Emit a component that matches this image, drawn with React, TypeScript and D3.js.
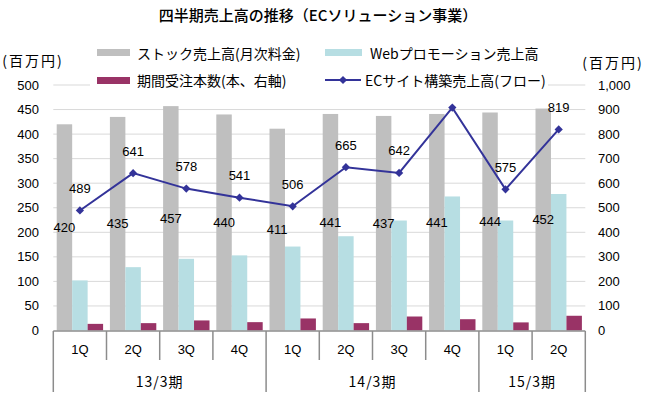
import React from 'react';
import * as d3 from 'd3';

const quarters = ['1Q', '2Q', '3Q', '4Q', '1Q', '2Q', '3Q', '4Q', '1Q', '2Q'];
const periodLabels = ['13/3期', '14/3期', '15/3期'];
const periodSpans = [4, 4, 2];

const stockSales = [420, 435, 457, 440, 411, 441, 437, 441, 444, 452];
const webSales = [102, 129, 146, 153, 171, 192, 224, 273, 224, 278];
const orderCounts = [27, 30, 41, 34, 49, 30, 57, 46, 33, 60];
const ecSales = [489, 641, 578, 541, 506, 665, 642, 908, 575, 819];
// the 4Q 14/3 point has no label in the source
const ecLabelHidden = [7];

const leftTicks = [0, 50, 100, 150, 200, 250, 300, 350, 400, 450, 500];
const rightTicks = [0, 100, 200, 300, 400, 500, 600, 700, 800, 900, 1000];

const W = 651;
const H = 398;
const jpFont = '"Noto Sans CJK JP", sans-serif';
const numFont = '"Liberation Sans", Arial, sans-serif';

const GRAY = '#bfbfbf';
const CYAN = '#b7dee3';
const MAROON = '#993366';
const NAVY = '#333399';

export default function App() {
  const idx = quarters.map((_, i) => i);
  const x = d3.scaleBand<number>().domain(idx).range([53.3, 585.3]).padding(0);
  const inner = d3
    .scaleBand<string>()
    .domain(['stock', 'web', 'orders'])
    .range([0, x.bandwidth()])
    .paddingInner(0)
    .paddingOuter(0.22);
  const yL = d3.scaleLinear().domain([0, 500]).range([330.5, 85]);
  const yR = d3.scaleLinear().domain([0, 1000]).range([330.5, 85]);

  const cx = (i: number) => (x(i) ?? 0) + x.bandwidth() / 2;
  const line = d3
    .line<number>()
    .x((_, i) => cx(i))
    .y((d) => yR(d));
  const diamond = d3.symbol(d3.symbolSquare, 34)();

  // group boundaries on the category axis
  const groupStarts: number[] = [];
  let acc = 0;
  periodSpans.forEach((s) => {
    groupStarts.push(acc);
    acc += s;
  });

  const x0 = x.range()[0];
  const x1 = x.range()[1];

  return (
    <svg
      width={W}
      height={H}
      style={{ position: 'absolute', left: 0, top: 0, background: '#fff' }}
    >
      <text x={318} y={14} textAnchor="middle" dominantBaseline="central" fontFamily={jpFont} fontSize={15} fontWeight={500} fill="#000">
        四半期売上高の推移（ECソリューション事業）
      </text>

      {/* gridlines */}
      {leftTicks.slice(1).map((t) => (
        <line key={t} x1={x0} x2={x1} y1={yL(t)} y2={yL(t)} stroke="#d9d9d9" strokeWidth={1} />
      ))}

      {/* legend box covers the grid */}
      <rect x={90} y={40} width={458} height={50} fill="#fff" />
      <rect x={97} y={49} width={33} height={7} fill={GRAY} />
      <text x={137} y={52.5} dominantBaseline="central" fontFamily={jpFont} fontSize={14} fill="#000">
        ストック売上高(月次料金)
      </text>
      <rect x={97} y={77} width={33} height={7} fill={MAROON} />
      <text x={137} y={80} dominantBaseline="central" fontFamily={jpFont} fontSize={14} fill="#000">
        期間受注本数(本、右軸)
      </text>
      <rect x={325} y={49} width={37} height={7} fill={CYAN} />
      <text x={370} y={52.5} dominantBaseline="central" fontFamily={jpFont} fontSize={14} fill="#000">
        Webプロモーション売上高
      </text>
      <line x1={325} x2={361} y1={80} y2={80} stroke={NAVY} strokeWidth={2} />
      <path d={diamond ?? ''} transform="translate(343,80) rotate(45)" fill={NAVY} />
      <text x={365} y={80} dominantBaseline="central" fontFamily={jpFont} fontSize={14} fill="#000">
        ECサイト構築売上高(フロー)
      </text>

      {/* unit labels */}
      <text x={33} y={59.5} textAnchor="middle" dominantBaseline="central" fontFamily={jpFont} fontSize={14} letterSpacing={2} fill="#000">
        (百万円)
      </text>
      <text x={613} y={61.5} textAnchor="middle" dominantBaseline="central" fontFamily={jpFont} fontSize={14} letterSpacing={2} fill="#000">
        (百万円)
      </text>

      {/* y ticks */}
      {leftTicks.map((t) => (
        <text key={t} x={39} y={yL(t)} textAnchor="end" dominantBaseline="central" fontFamily={numFont} fontSize={13} fill="#000">
          {d3.format(',')(t)}
        </text>
      ))}
      {rightTicks.map((t) => (
        <text key={t} x={598} y={yR(t)} textAnchor="start" dominantBaseline="central" fontFamily={numFont} fontSize={13} fill="#000">
          {d3.format(',')(t)}
        </text>
      ))}

      {/* bars */}
      {idx.map((i) => (
        <g key={i} transform={`translate(${x(i)},0)`}>
          <rect x={inner('stock')} y={yL(stockSales[i])} width={inner.bandwidth()} height={yL(0) - yL(stockSales[i])} fill={GRAY} />
          <rect x={inner('web')} y={yL(webSales[i])} width={inner.bandwidth()} height={yL(0) - yL(webSales[i])} fill={CYAN} />
          <rect x={inner('orders')} y={yR(orderCounts[i])} width={inner.bandwidth()} height={yR(0) - yR(orderCounts[i])} fill={MAROON} />
        </g>
      ))}

      {/* stock labels in bar middle */}
      {idx.map((i) => (
        <text
          key={i}
          x={(x(i) ?? 0) + (inner('stock') ?? 0) + inner.bandwidth() / 2}
          y={yL(stockSales[i] / 2)}
          textAnchor="middle"
          dominantBaseline="central"
          fontFamily={numFont}
          fontSize={13}
          fill="#000"
        >
          {stockSales[i]}
        </text>
      ))}

      {/* EC line */}
      <path d={line(ecSales) ?? ''} fill="none" stroke={NAVY} strokeWidth={2} />
      {ecSales.map((v, i) => (
        <path key={i} d={diamond ?? ''} transform={`translate(${cx(i)},${yR(v)}) rotate(45)`} fill={NAVY} />
      ))}
      {ecSales.map((v, i) =>
        ecLabelHidden.includes(i) ? null : (
          <text key={i} x={cx(i)} y={yR(v) - 22} textAnchor="middle" dominantBaseline="central" fontFamily={numFont} fontSize={13} fill="#000">
            {v}
          </text>
        )
      )}

      {/* category axis */}
      <line x1={x0} x2={x1} y1={331} y2={331} stroke="#8c8c8c" strokeWidth={1.5} />
      {d3.range(quarters.length + 1).map((k) => {
        const isGroup = k === quarters.length || groupStarts.includes(k);
        const px = k === quarters.length ? x1 : x(k) ?? 0;
        return <line key={k} x1={px} x2={px} y1={331} y2={isGroup ? 392 : 360} stroke="#8c8c8c" strokeWidth={1.5} />;
      })}
      {quarters.map((q, i) => (
        <text key={i} x={cx(i)} y={349.5} textAnchor="middle" dominantBaseline="central" fontFamily={numFont} fontSize={13} fill="#000">
          {q}
        </text>
      ))}
      {periodLabels.map((p, g) => {
        const a = x(groupStarts[g]) ?? 0;
        const b = a + periodSpans[g] * x.bandwidth();
        return (
          <text key={p} x={(a + b) / 2} y={381} textAnchor="middle" dominantBaseline="central" fontFamily={jpFont} fontSize={14} letterSpacing={1} fill="#000">
            {p}
          </text>
        );
      })}
    </svg>
  );
}
